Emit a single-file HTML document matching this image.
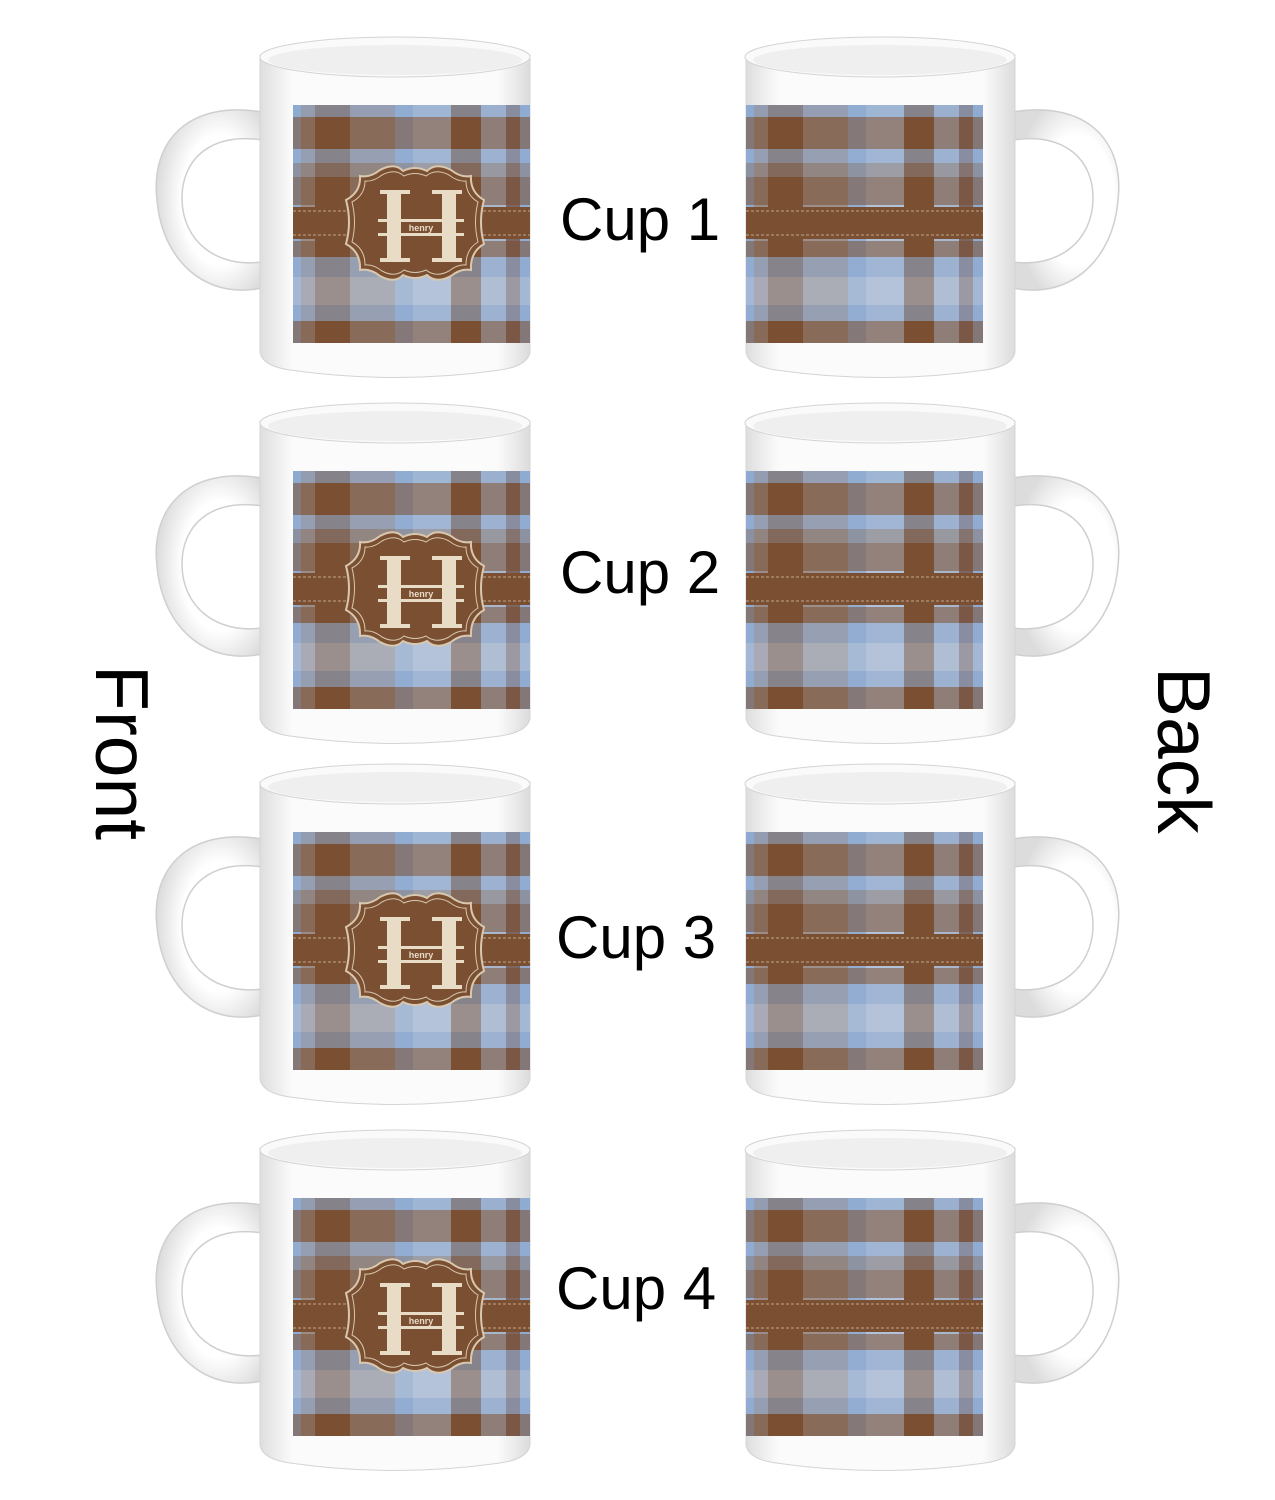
<!DOCTYPE html>
<html><head><meta charset="utf-8"><style>
html,body{margin:0;padding:0;background:#fff;}
svg{display:block;}
text{font-family:"Liberation Sans",Arial,sans-serif;}
</style></head><body>
<svg width="1275" height="1500" viewBox="0 0 1275 1500" xmlns="http://www.w3.org/2000/svg">
<defs>
<linearGradient id="body" x1="0" x2="1" y1="0" y2="0">
<stop offset="0" stop-color="#dedede"/><stop offset="0.12" stop-color="#fbfbfb"/><stop offset="0.88" stop-color="#fbfbfb"/><stop offset="1" stop-color="#dcdcdc"/>
</linearGradient>
<radialGradient id="hand" cx="0.6" cy="0.5" r="0.6">
<stop offset="0.6" stop-color="#ffffff"/><stop offset="1" stop-color="#dcdcdc"/>
</radialGradient>
<g id="plaidF">
<rect x="0" y="0" width="237" height="238" fill="#9b8c88"/>
<rect x="0" y="0" width="8" height="238" fill="#8fa9cf"/>
<rect x="22" y="0" width="35" height="238" fill="#7a4f32"/>
<rect x="57" y="0" width="45" height="238" fill="#9d8f8c"/>
<rect x="102" y="0" width="18" height="238" fill="#93acd0"/>
<rect x="120" y="0" width="38" height="238" fill="#b3c2d8"/>
<rect x="158" y="0" width="30" height="238" fill="#7a4f32"/>
<rect x="188" y="0" width="25" height="238" fill="#a9b7cc"/>
<rect x="213" y="0" width="14" height="238" fill="#7e6560"/>
<rect x="227" y="0" width="10" height="238" fill="#90aad0"/>
<g opacity="0.55">
<rect x="0" y="0" width="237" height="12" fill="#90acd2"/>
<rect x="0" y="12" width="237" height="32" fill="#7a4f32"/>
<rect x="0" y="44" width="237" height="14" fill="#93aed4"/>
<rect x="0" y="58" width="237" height="14" fill="#8a7f7d"/>
<rect x="0" y="72" width="237" height="28" fill="#7a4f32"/>
<rect x="0" y="136" width="237" height="16" fill="#7a4f32"/>
<rect x="0" y="152" width="237" height="20" fill="#93aed4"/>
<rect x="0" y="172" width="237" height="28" fill="#b6c4da"/>
<rect x="0" y="200" width="237" height="16" fill="#93aed4"/>
<rect x="0" y="216" width="237" height="22" fill="#7a4f32"/>
</g>
<rect x="0" y="102" width="237" height="32" fill="#7a4f32"/>
<line x1="0" y1="106" x2="237" y2="106" stroke="#d8c2a8" stroke-width="0.8" stroke-dasharray="3 2"/>
<line x1="0" y1="130" x2="237" y2="130" stroke="#d8c2a8" stroke-width="0.8" stroke-dasharray="3 2"/>
</g>
<g id="mugF">
<path d="M262 112 C 190 100, 150 140, 157 200 C 162 260, 205 300, 262 288 L 262 262 C 215 268, 183 240, 182 200 C 181 160, 210 132, 262 140 Z" fill="url(#hand)" stroke="#cfcfcf" stroke-width="1.5"/>
<path d="M260 55 L260 352 Q 262 366 290 370 Q 395 385 500 370 Q 528 366 530 352 L530 55 Z" fill="url(#body)" stroke="#d4d4d4" stroke-width="1"/>
<ellipse cx="395" cy="57" rx="135" ry="20" fill="#fafafa" stroke="#d4d4d4"/>
<ellipse cx="395" cy="60" rx="127" ry="15" fill="#efefef"/>
<use href="#plaidF" x="293" y="105"/>
<path d="M360 176 Q370 178 380 170 Q395 162 403 171 Q415 165 427 171 Q436 162 451 170 Q461 178 471 176 Q470 192 484 200 Q478 222 484 244 Q470 252 471 270 Q461 268 451 276 Q436 284 427 275 Q415 281 403 275 Q395 284 380 276 Q370 268 360 270 Q361 252 346 244 Q352 222 346 200 Q361 192 360 176 Z" fill="#7a4f32" stroke="#d9c8ae" stroke-width="2"/>
<path d="M365 181 Q373 182 382 175 Q395 168 404 176 Q415 171 426 176 Q436 168 449 175 Q458 182 466 181 Q466 195 478 202 Q473 222 478 242 Q466 249 466 265 Q458 264 449 271 Q436 278 426 270 Q415 275 404 270 Q395 278 382 271 Q373 264 365 265 Q365 249 352 242 Q357 222 352 202 Q365 195 365 181 Z" fill="none" stroke="#d9c8ae" stroke-width="1"/>
<g fill="#e9dcc6">
<rect x="380" y="190" width="30" height="4"/><rect x="432" y="190" width="30" height="4"/>
<rect x="387" y="194" width="14" height="64"/><rect x="442" y="194" width="14" height="64"/>
<rect x="380" y="258" width="30" height="4"/><rect x="432" y="258" width="30" height="4"/>
<rect x="378" y="219" width="86" height="3"/><rect x="378" y="233" width="86" height="3"/>
</g>
<rect x="401" y="222" width="41" height="11" fill="#7a4f32"/>
<text x="421" y="231" font-size="9" font-weight="bold" fill="#e9dcc6" text-anchor="middle">henry</text>
</g>
<g id="mugB">
<path d="M1013 112 C 1085 100, 1125 140, 1118 200 C 1113 260, 1070 300, 1013 288 L 1013 262 C 1060 268, 1092 240, 1093 200 C 1094 160, 1065 132, 1013 140 Z" fill="url(#hand)" stroke="#cfcfcf" stroke-width="1.5"/>
<path d="M746 55 L746 352 Q 748 366 776 370 Q 880 385 985 370 Q 1013 366 1015 352 L1015 55 Z" fill="url(#body)" stroke="#d4d4d4" stroke-width="1"/>
<ellipse cx="880" cy="57" rx="135" ry="20" fill="#fafafa" stroke="#d4d4d4"/>
<ellipse cx="880" cy="60" rx="127" ry="15" fill="#efefef"/>
<use href="#plaidF" x="746" y="105"/>
</g>
</defs>
<use href="#mugF"/><use href="#mugB"/>
<use href="#mugF" y="366"/><use href="#mugB" y="366"/>
<use href="#mugF" y="727"/><use href="#mugB" y="727"/>
<use href="#mugF" y="1093"/><use href="#mugB" y="1093"/>
<g font-size="60" fill="#000">
<text x="560" y="240">Cup 1</text>
<text x="560" y="593">Cup 2</text>
<text x="556" y="958">Cup 3</text>
<text x="556" y="1309">Cup 4</text>
</g>
<text font-size="75" transform="translate(96,665) rotate(90)">Front</text>
<text font-size="75" transform="translate(1158,667) rotate(90)">Back</text>
</svg>
</body></html>
